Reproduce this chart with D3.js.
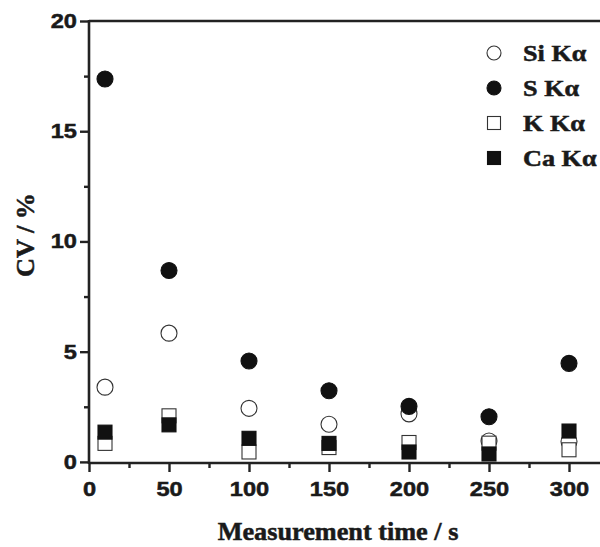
<!DOCTYPE html>
<html lang="en">
<head>
    <meta charset="UTF-8">
    <title>CV vs measurement time</title>
    <script src="https://d3js.org/d3.v7.min.js"></script>
</head>
<body style="margin:0;background:#fff;">
<style>
    svg {
        font-family: "Liberation Serif", "Times New Roman", serif;
        font-weight: bold;
    }
    svg text { stroke: #1a1a1a; stroke-width: 0.5px; fill: #1a1a1a; }
    .axis path { display: none; }
    .axis line { stroke: #222; stroke-width: 2.4; }
    .axis text { font-size: 20px; }
</style>

<div id="chart"></div>

<script>
    // measurement times (s)
    var times = [10, 50, 100, 150, 200, 250, 300];

    // CV values (%) per line
    var siKa = [3.39, 5.84, 2.43, 1.71, 2.18, 0.95, 0.92];
    var sKa  = [17.37, 8.68, 4.58, 3.23, 2.52, 2.05, 4.47];
    var kKa  = [0.84, 2.09, 0.45, 0.65, 0.88, 0.85, 0.55];
    var caKa = [1.35, 1.68, 1.07, 0.84, 0.45, 0.36, 1.40];

    var seriesNames = ["Si K\u03b1", "S K\u03b1", "K K\u03b1", "Ca K\u03b1"];

    var xTicks = [0, 50, 100, 150, 200, 250, 300];
    var xMinor = [25, 75, 125, 175, 225, 275];
    var yTicks = [0, 5, 10, 15, 20];
    var yMinor = [2.5, 7.5, 12.5, 17.5];

    var W = 600, H = 547;
    var stretch = 1.18; // the lettering in the original is wide

    var svg = d3.select("#chart").append("svg")
        .attr("width", W)
        .attr("height", H);

    var x = d3.scaleLinear().domain([0, 320]).range([89, 601]);
    var y = d3.scaleLinear().domain([-0.05, 20]).range([463, 21]);

    // minor ticks first (no labels)
    svg.append("g").attr("class", "axis")
        .attr("transform", "translate(0," + y(-0.05) + ")")
        .call(d3.axisBottom(x).tickValues(xMinor).tickSize(5).tickFormat(""));
    svg.append("g").attr("class", "axis")
        .attr("transform", "translate(" + x(0) + ",0)")
        .call(d3.axisLeft(y).tickValues(yMinor).tickSize(5).tickFormat(""));

    // major ticks
    svg.append("g").attr("class", "axis")
        .attr("transform", "translate(0," + y(-0.05) + ")")
        .call(d3.axisBottom(x).tickValues(xTicks).tickSize(9))
        .selectAll("text")
        .attr("y", 0).attr("dy", 0)
        .attr("transform", "translate(0,33) scale(" + stretch + ",1)");
    svg.append("g").attr("class", "axis")
        .attr("transform", "translate(" + x(0) + ",0)")
        .call(d3.axisLeft(y).tickValues(yTicks).tickSize(9))
        .selectAll("text")
        .attr("x", 0)
        .attr("transform", "translate(-12,0) scale(" + stretch + ",1)");

    // frame lines
    var frame = svg.append("g").attr("stroke", "#222").attr("stroke-width", 2.6).attr("fill", "none");
    frame.append("line").attr("x1", x(0)).attr("x2", W).attr("y1", y(-0.05)).attr("y2", y(-0.05));
    frame.append("line").attr("x1", x(0)).attr("x2", x(0)).attr("y1", y(20) - 1).attr("y2", y(-0.05) + 1);
    frame.append("line").attr("x1", x(0)).attr("x2", W).attr("y1", y(20)).attr("y2", y(20));

    // axis titles
    svg.append("text")
        .attr("transform", "translate(338,540) scale(1.05,1)")
        .attr("text-anchor", "middle")
        .attr("font-size", "25px")
        .text("Measurement time / s");
    svg.append("text")
        .attr("transform", "translate(34,235) rotate(-90) scale(1.05,1.05)")
        .attr("text-anchor", "middle")
        .attr("font-size", "25px")
        .text("CV / %");

    // markers
    var R = 8, S = 14;
    function drawCircles(vals, filled) {
        svg.append("g").selectAll("circle").data(vals).enter().append("circle")
            .attr("cx", function(d, i){ return x(times[i]); })
            .attr("cy", function(d){ return y(d); })
            .attr("r", R)
            .attr("fill", filled ? "#111" : "#fff")
            .attr("stroke", filled ? "#111" : "#333")
            .attr("stroke-width", 1.1);
    }
    function drawSquares(vals, filled) {
        svg.append("g").selectAll("rect").data(vals).enter().append("rect")
            .attr("x", function(d, i){ return x(times[i]) - S / 2; })
            .attr("y", function(d){ return y(d) - S / 2; })
            .attr("width", S).attr("height", S)
            .attr("fill", filled ? "#111" : "#fff")
            .attr("stroke", filled ? "#111" : "#333")
            .attr("stroke-width", 1.1);
    }
    drawCircles(siKa, false);
    drawCircles(sKa, true);
    drawSquares(kKa, false);
    drawSquares(caKa, true);

    // legend
    var legend = svg.append("g");
    seriesNames.forEach(function(name, i){
        var cy = 53 + i * 35, cx = 494;
        if (i < 2) {
            legend.append("circle").attr("cx", cx).attr("cy", cy).attr("r", 7)
                .attr("fill", i == 1 ? "#111" : "#fff")
                .attr("stroke", i == 1 ? "#111" : "#333").attr("stroke-width", 1.1);
        } else {
            legend.append("rect").attr("x", cx - 6.5).attr("y", cy - 6.5)
                .attr("width", 13).attr("height", 13)
                .attr("fill", i == 3 ? "#111" : "#fff")
                .attr("stroke", i == 3 ? "#111" : "#333").attr("stroke-width", 1.1);
        }
        legend.append("text")
            .attr("transform", "translate(523," + (cy + 8) + ") scale(1.14,1)")
            .attr("font-size", "23px")
            .text(name);
    });
</script>

</body>
</html>
